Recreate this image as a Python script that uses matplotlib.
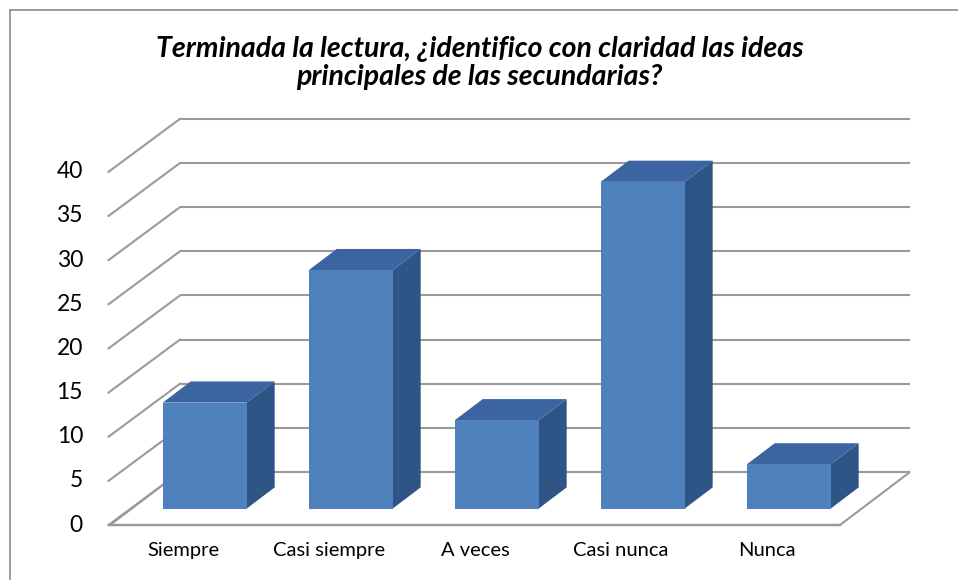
import matplotlib.pyplot as plt
from matplotlib.patches import Polygon
from matplotlib.lines import Line2D

# data
categories = ["Siempre", "Casi siempre", "A veces", "Casi nunca", "Nunca"]
values = [12, 27, 10, 37, 5]
y_ticks = [0, 5, 10, 15, 20, 25, 30, 35, 40]
title = "Terminada la lectura, ¿identifico con claridad las ideas\nprincipales de las secundarias?"

plt.rcParams['font.family'] = ['Lato', 'DejaVu Sans']

# fake 3d: oblique projection, depth goes up and to the right
DX = 0.4795      # full depth shift in category units
DY = 6.0         # full depth shift in value units
BAR_W = 0.575
F0, F1 = 0.31, 0.71   # bar depth range (fraction of floor depth)

front_c = "#4F81BD"
top_c = "#3B64A0"
side_c = "#2F5587"
grid_c = "#9a9a9a"

def proj(x, v, f):
    return (x + f * DX, v + f * DY)

fig = plt.figure(figsize=(9.58, 5.8), dpi=100)
ax = fig.add_axes([0, 0, 1, 1])
ax.set_xlim(-183 / 146, (958 - 183) / 146)
ax.set_ylim((525 - 580) / 8.83, 525 / 8.83)
ax.axis('off')

n = len(categories)
x0, x1 = -0.5, n - 0.5

# back wall + side wall gridlines
for v in y_ticks:
    bx0, by = proj(x0, v, 1)
    bx1, _ = proj(x1, v, 1)
    ax.plot([bx0, bx1], [by, by], color=grid_c, lw=1.5, solid_capstyle='butt', zorder=1)
    ax.plot([x0 - 0.01, bx0], [v, by], color=grid_c, lw=1.5, zorder=1)

# floor
floor = [proj(x0, 0, 0), proj(x1, 0, 0), proj(x1, 0, 1), proj(x0, 0, 1)]
ax.add_patch(Polygon(floor, closed=True, facecolor='white', edgecolor=grid_c, lw=1.5, zorder=2))
ax.plot([x0 - 0.01, x1], [0, 0], color=grid_c, lw=1.7, zorder=2)

# bars
for i, val in enumerate(values):
    l = i - BAR_W / 2
    r = i + BAR_W / 2
    fl = [proj(l, 0, F0), proj(r, 0, F0), proj(r, val, F0), proj(l, val, F0)]
    tp = [proj(l, val, F0), proj(r, val, F0), proj(r, val, F1), proj(l, val, F1)]
    sd = [proj(r, 0, F0), proj(r, 0, F1), proj(r, val, F1), proj(r, val, F0)]
    ax.add_patch(Polygon(sd, closed=True, facecolor=side_c, edgecolor='none', zorder=3))
    ax.add_patch(Polygon(tp, closed=True, facecolor=top_c, edgecolor='none', zorder=3))
    ax.add_patch(Polygon(fl, closed=True, facecolor=front_c, edgecolor='none', zorder=3))

# value labels
for v in y_ticks:
    ax.text((83 - 183) / 146, v, str(v), ha='right', va='center', fontsize=16.5, color='black')

# category labels
for i, c in enumerate(categories):
    ax.text(i, -2.94, c, ha='center', va='center', fontsize=14.5, color='black')

ax.text(2.03, (525 - 63) / 8.83, title, ha='center', va='center', fontsize=20.5,
        fontweight='bold', fontstyle='italic', linespacing=1.12)

# chart frame (only left and top visible in the crop)
fig.add_artist(Line2D([10 / 958, 10 / 958], [0, 1 - 10 / 580], color='#8c8c8c', lw=1.2))
fig.add_artist(Line2D([10 / 958, 1], [1 - 10 / 580, 1 - 10 / 580], color='#8c8c8c', lw=1.2))

fig.savefig("out.png", dpi=100)
